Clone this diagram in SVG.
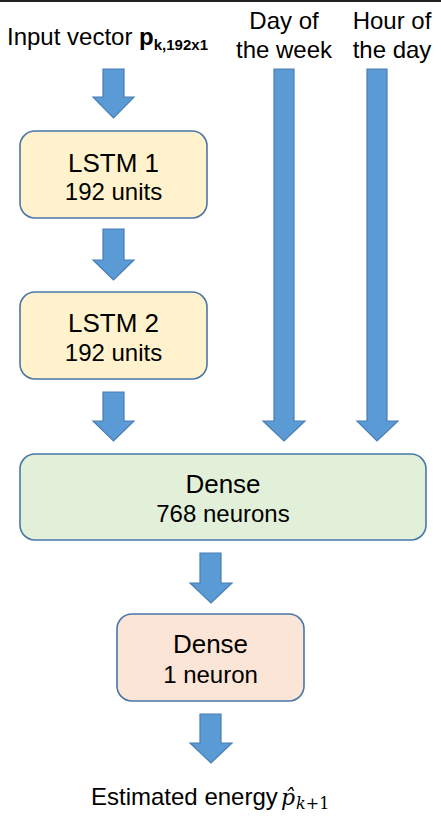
<svg xmlns="http://www.w3.org/2000/svg" width="441" height="820" viewBox="0 0 441 820">
<style>
.t{font-family:"Liberation Sans",Arial,sans-serif;fill:#000;}
.arrow{fill:#5B9BD5;stroke:#4A7EB5;stroke-width:1.2;}
.box{stroke:#4A76A8;stroke-width:1.6;}
.m{font-family:"DejaVu Serif","Liberation Serif",serif;font-style:italic;fill:#000;}
</style>
<rect x="0" y="0" width="441" height="820" fill="#fff"/>
<rect x="0" y="0" width="441" height="2" fill="#222"/>
<g id="labels">
<text class="t" x="7" y="45" font-size="24">Input vector <tspan font-weight="bold">p</tspan><tspan font-weight="bold" font-size="15" dy="5">k,192x1</tspan></text>
<text class="t" x="284" y="29" font-size="24" text-anchor="middle">Day of</text>
<text class="t" x="284" y="58" font-size="24" text-anchor="middle">the week</text>
<text class="t" x="392" y="29" font-size="24" text-anchor="middle">Hour of</text>
<text class="t" x="392" y="58" font-size="24" text-anchor="middle">the day</text>
<text class="t" x="91" y="805" font-size="24">Estimated energy</text>
<text class="m" x="281" y="805" font-size="22">p̂<tspan font-size="16" dy="4" dx="1">k<tspan font-style="normal">+1</tspan></tspan></text>
</g>
<g id="connectors">
<path class="arrow" d="M103,69 H124 V97 H134 L113.5,118 L93,97 H103 Z"/>
<path class="arrow" d="M103,229 H124 V260 H134 L113.5,280 L93,260 H103 Z"/>
<path class="arrow" d="M103,392 H124 V421 H134 L113.5,441 L93,421 H103 Z"/>
<path class="arrow" d="M274,69 H294 V421 H305 L284,441 L263,421 H274 Z"/>
<path class="arrow" d="M367,69 H387 V421 H398 L377,441 L357,421 H367 Z"/>
<path class="arrow" d="M200,553 H221 V583 H232 L211,603 L190,583 H200 Z"/>
<path class="arrow" d="M200,714 H221 V743 H232 L211,763 L190,743 H200 Z"/>
</g>
<g id="lstm1">
<rect class="box" x="20" y="131" width="187" height="87" rx="15" fill="#FFF2CC"/>
<text class="t" x="113.5" y="172" font-size="26" text-anchor="middle">LSTM 1</text>
<text class="t" x="113.5" y="200" font-size="24" text-anchor="middle">192 units</text>
</g>
<g id="lstm2">
<rect class="box" x="20" y="292" width="187" height="87" rx="15" fill="#FFF2CC"/>
<text class="t" x="113.5" y="332" font-size="26" text-anchor="middle">LSTM 2</text>
<text class="t" x="113.5" y="361" font-size="24" text-anchor="middle">192 units</text>
</g>
<g id="dense768">
<rect class="box" x="20" y="454" width="406" height="86" rx="15" fill="#E2F0D9"/>
<text class="t" x="223" y="493" font-size="26" text-anchor="middle">Dense</text>
<text class="t" x="223" y="522" font-size="24" text-anchor="middle">768 neurons</text>
</g>
<g id="dense1">
<rect class="box" x="117" y="614" width="187" height="87" rx="15" fill="#FBE5D6"/>
<text class="t" x="210.5" y="653" font-size="26" text-anchor="middle">Dense</text>
<text class="t" x="210.5" y="683" font-size="24" text-anchor="middle">1 neuron</text>
</g>
</svg>
